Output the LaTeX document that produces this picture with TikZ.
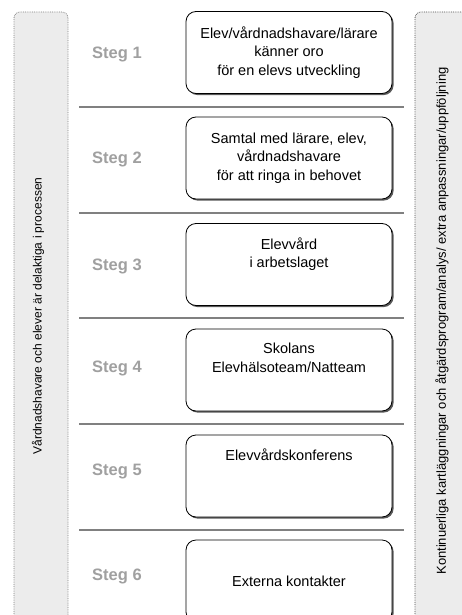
\documentclass[tikz,border=0pt]{standalone}
\usepackage{fontspec}
\setmainfont{Liberation Sans}
\usepackage{tikz}
\usetikzlibrary{shadows}
\usepackage{xcolor}
\definecolor{sidegray}{HTML}{ECECEC}
\definecolor{steggray}{HTML}{A0A0A0}
\definecolor{linegray}{HTML}{808080}

\begin{document}
\begin{tikzpicture}[x=1pt,y=-1pt]

		\tikzset{sidebox/.style = {draw=linegray, densely dotted, fill=sidegray, rounded corners=6pt, line width=0.8pt}}
		\tikzset{stegbox/.style = {draw, rounded corners=10pt, fill=white, line width=0.8pt, minimum width=206pt, minimum height=82pt, align=center, font=\fontsize{14.5}{18.5}\selectfont, drop shadow={shadow xshift=1.6pt, shadow yshift=-1.6pt, fill=black!65, opacity=1}}}
		\tikzset{steglabel/.style = {text=steggray, font=\fontsize{16.5}{16.5}\selectfont\bfseries}}
		\tikzset{sep/.style = {draw=linegray, line width=1.3pt}}
		\useasboundingbox (0,0) rectangle (461,615);
		% side columns
		\draw[sidebox] (14,630) -- (14,12) -- (68,12) -- (68,630);
		\draw[sidebox, draw=black!70] (415,630) -- (415,12) -- (475,12) -- (475,630);
		\node[rotate=90, font=\fontsize{12}{12}\selectfont] (vl) at (38,316) {Vårdnadshavare och elever är delaktiga i processen};
		\node[rotate=90, font=\fontsize{13}{13}\selectfont] (vr) at (442,321) {Kontinuerliga kartläggningar och åtgärdsprogram/analys/ extra anpassningar/uppföljning};
		% steps
		\node[steglabel] (s1) at (117,54) {Steg 1};
		\node[steglabel] (s2) at (117,159) {Steg 2};
		\node[steglabel] (s3) at (117,266) {Steg 3};
		\node[steglabel] (s4) at (117,368) {Steg 4};
		\node[steglabel] (s5) at (117,471) {Steg 5};
		\node[steglabel] (s6) at (117,576) {Steg 6};
		% boxes
		\node[stegbox] (b1) at (289,52.5) {Elev/vårdnadshavare/lärare\\känner oro\\för en elevs utveckling};
		\node[stegbox] (b2) at (289,158) {Samtal med lärare, elev,\\vårdnadshavare\\för att ringa in behovet};
		\node[stegbox] (b3) at (289,264.5) {Elevvård\\i arbetslaget\\\strut};
		\node[stegbox] (b4) at (289,370) {Skolans\\Elevhälsoteam/Natteam\\\strut};
		\node[stegbox] (b5) at (289,476) {Elevvårdskonferens\\\strut\\\strut};
		\node[stegbox] (b6) at (289,581) {Externa kontakter};
		% separators
		\draw[sep] (79,107) -- (404,107);
		\draw[sep] (79,213) -- (404,213);
		\draw[sep] (79,318) -- (404,318);
		\draw[sep] (79,424) -- (404,424);
		\draw[sep] (79,530) -- (404,530);

\end{tikzpicture}
\end{document}
